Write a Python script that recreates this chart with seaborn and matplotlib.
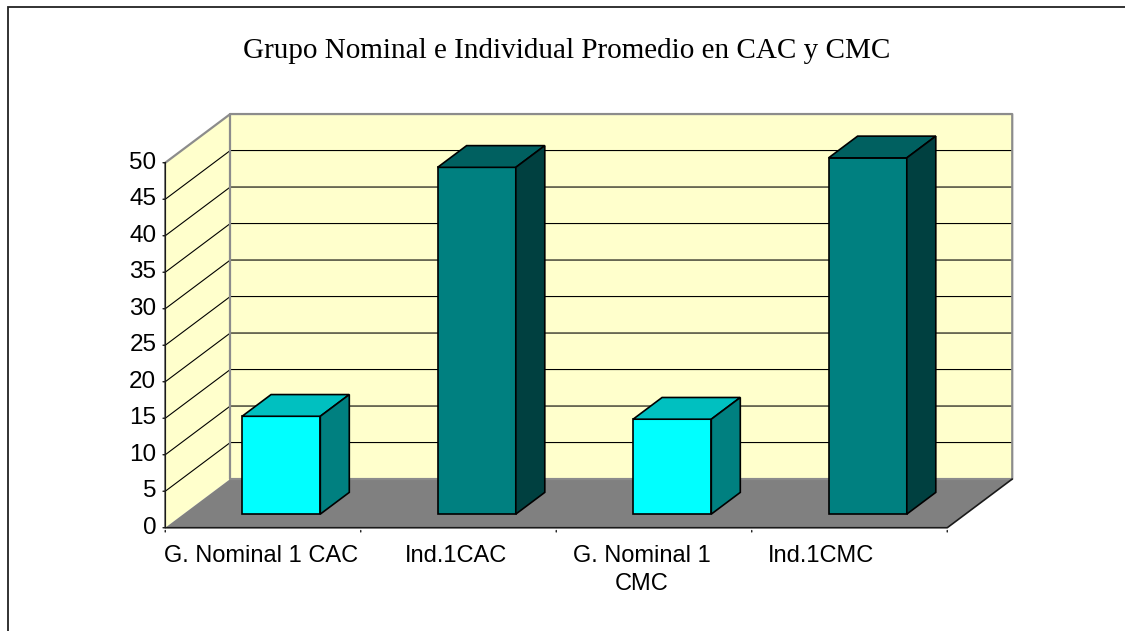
import numpy as np
import pandas as pd
import matplotlib
matplotlib.use("Agg")
import matplotlib.pyplot as plt
import seaborn as sns
from matplotlib.patches import Polygon, Rectangle

# ==========================================
# DATA
# ==========================================
categories = ["G. Nominal 1 CAC", "Ind.1CAC", "G. Nominal 1 CMC", "Ind.1CMC"]
tick_labels = ["G. Nominal 1 CAC", "Ind.1CAC", "G. Nominal 1\nCMC", "Ind.1CMC"]
values = [13.4, 47.5, 13.0, 48.8]
y_ticks = list(range(0, 55, 5))

front_colors = ["#00FFFF", "#008080", "#00FFFF", "#008080"]
top_colors = ["#00C0C0", "#006060", "#00C0C0", "#006060"]
side_colors = ["#008080", "#004040", "#008080", "#004040"]

# ==========================================
# LAYOUT (pixels of the 1125x631 canvas)
# ==========================================
W, H = 1125, 631
PX_CAT = 195.5      # pixels per category
PX_UNIT = 7.3       # pixels per value unit
X0_PX = 281.2       # bar front centre of first category
Y0_PX = 514.1       # bar base line (from top)
DX = 65 / PX_CAT    # full depth offset in data units
DY = 48.7 / PX_UNIT
D0 = 0.28           # depth of the bar front faces
BAR_DEPTH = 0.446
YMAX = 50


def P(xc, v, d):
    """oblique projection: category coord, value, depth -> data coords"""
    return (xc + (d - D0) * DX, v + (d - D0) * DY)


sns.set_style("white")
plt.rcParams["font.family"] = ["Liberation Sans", "DejaVu Sans"]
plt.rcParams["text.color"] = "black"

df = pd.DataFrame({"label": categories, "value": values})

fig = plt.figure(figsize=(W / 100, H / 100), dpi=100)
ax = fig.add_axes([0, 0, 1, 1])

sns.barplot(data=df, x="label", y="value", hue="label", order=categories,
            palette=dict(zip(categories, front_colors)), saturation=1,
            width=0.4, edgecolor="black", linewidth=1.2, legend=False,
            ax=ax, zorder=2)
bars = sorted([p for p in ax.patches if isinstance(p, Rectangle) and p.get_height() > 0],
              key=lambda p: p.get_x())

ax.set_xlim(-X0_PX / PX_CAT, (W - X0_PX) / PX_CAT)
ax.set_ylim(-(H - Y0_PX) / PX_UNIT, Y0_PX / PX_UNIT)
ax.axis("off")

L, R = -0.5, len(categories) - 0.5

# walls and floor
wall_kw = dict(facecolor="#FFFFCC", edgecolor="none", zorder=0.5)
ax.add_patch(Polygon([P(L, 0, 0), P(L, YMAX, 0), P(L, YMAX, 1), P(L, 0, 1)], **wall_kw))
ax.add_patch(Polygon([P(L, 0, 1), P(R, 0, 1), P(R, YMAX, 1), P(L, YMAX, 1)], **wall_kw))
ax.add_patch(Polygon([P(L, 0, 0), P(R, 0, 0), P(R, 0, 1), P(L, 0, 1)],
                     facecolor="#808080", edgecolor="none", zorder=0.5))

# gridlines
for v in y_ticks[1:-1]:
    pts = [P(L, v, 0), P(L, v, 1), P(R, v, 1)]
    ax.plot([p[0] for p in pts], [p[1] for p in pts], color="black", lw=0.8, zorder=0.6)

# gray wall borders
for seg in [[P(L, YMAX, 0), P(L, YMAX, 1), P(R, YMAX, 1), P(R, 0, 1), P(L, 0, 1)],
            [P(L, 0, 1), P(L, YMAX, 1)]]:
    ax.plot([p[0] for p in seg], [p[1] for p in seg], color="#8C8C8C", lw=1.6, zorder=0.7)

# front axes
for seg in [[P(L, YMAX, 0), P(L, 0, 0), P(R, 0, 0), P(R, 0, 1)]]:
    ax.plot([p[0] for p in seg], [p[1] for p in seg], color="#1a1a1a", lw=1.2, zorder=0.8)

for v in y_ticks:
    x, y = P(L, v, 0)
    ax.annotate("", xy=(x, y), xytext=(-5, 0), textcoords="offset pixels",
                arrowprops=dict(arrowstyle="-", color="#1a1a1a", lw=1.0))
    ax.annotate(str(v), xy=(x, y), xytext=(-9, 0), textcoords="offset pixels",
                ha="right", va="center", fontsize=17.5, color="black")

for i in range(len(categories) + 1):
    x, y = P(L + i, 0, 0)
    ax.annotate("", xy=(x, y), xytext=(0, -7), textcoords="offset pixels",
                arrowprops=dict(arrowstyle="-", color="#1a1a1a", lw=1.0))

label_shift_px = [-2, -3, -12, -29]
for i, lab in enumerate(tick_labels):
    x, y = P(i, 0, 0)
    ax.annotate(lab, xy=(x, y), xytext=(label_shift_px[i], -17), textcoords="offset pixels",
                ha="center", va="top", fontsize=17, linespacing=1.36, color="black")

# 3d tops and sides of the bars
bdx, bdy = BAR_DEPTH * DX, BAR_DEPTH * DY
for b, tc, sc in zip(bars, top_colors, side_colors):
    x0, w, h = b.get_x(), b.get_width(), b.get_height()
    ax.add_patch(Polygon([(x0, h), (x0 + w, h), (x0 + w + bdx, h + bdy), (x0 + bdx, h + bdy)],
                         facecolor=tc, edgecolor="black", lw=1.2, zorder=2))
    ax.add_patch(Polygon([(x0 + w, 0), (x0 + w, h), (x0 + w + bdx, h + bdy), (x0 + w + bdx, bdy)],
                         facecolor=sc, edgecolor="black", lw=1.2, zorder=2))

# title and outer frame
fig.text(567 / W, 1 - 51 / H, "Grupo Nominal e Individual Promedio en CAC y CMC",
         ha="center", va="center", fontsize=21, color="black",
         family=["Liberation Serif", "DejaVu Serif"])
fig.add_artist(Rectangle((8 / W, -0.1), 1.2, 1.1 - 7 / H, transform=fig.transFigure,
                         fill=False, edgecolor="#222222", lw=1.3))

fig.savefig("out.png", dpi=100)
